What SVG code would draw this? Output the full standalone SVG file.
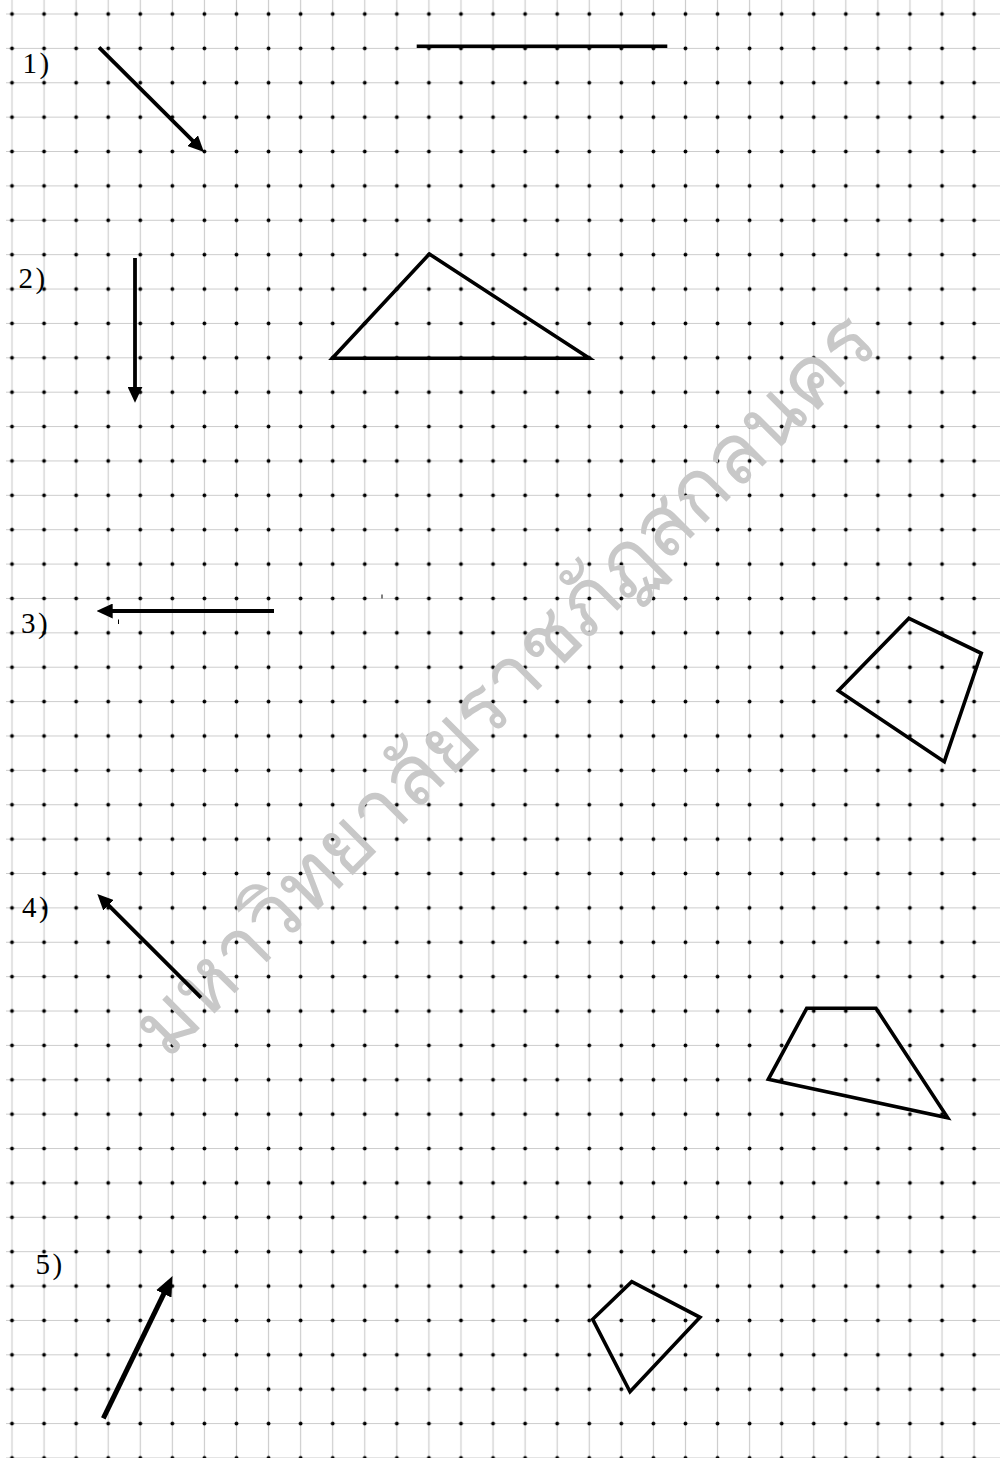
<svg xmlns="http://www.w3.org/2000/svg" width="1000" height="1458" viewBox="0 0 1000 1458">
<style>
.shape{fill:none;stroke:#000;stroke-width:3.6;stroke-linejoin:miter;stroke-linecap:butt}
.arrow{fill:none;stroke:#000;stroke-width:3.8;stroke-linecap:butt}
.lbl{font-family:"Liberation Serif",serif;font-size:29px;fill:#000;letter-spacing:2.5px}
.wm{font-family:"Noto Sans",sans-serif;font-size:84px;fill:#c8c8c8}
.tick{stroke:#000;stroke-width:1}
</style>
<defs>
<pattern id="grid" patternUnits="userSpaceOnUse" x="-4.035" y="-3.19" width="32.07" height="34.38">
<line x1="16.035" y1="0" x2="16.035" y2="34.38" stroke="#cccccc" stroke-width="1.2"/>
<line x1="0" y1="17.19" x2="32.07" y2="17.19" stroke="#cccccc" stroke-width="1.2"/>
<circle cx="16.035" cy="17.19" r="1.9" fill="#000"/>
</pattern>
<marker id="ah" markerUnits="userSpaceOnUse" markerWidth="16" markerHeight="15" refX="6" refY="7.5" orient="auto" viewBox="0 0 16 15">
<path d="M0,0 L16,7.5 L0,15 Z" fill="#000"/>
</marker>
<marker id="ahL" markerUnits="userSpaceOnUse" markerWidth="20" markerHeight="17" refX="8" refY="8.5" orient="auto" viewBox="0 0 20 17">
<path d="M0,0 L20,8.5 L0,17 Z" fill="#000"/>
</marker>
</defs>
<rect id="background" x="0" y="0" width="1000" height="1458" fill="#fff"/>
<rect id="dot-grid" x="6" y="0" width="994" height="1458" fill="url(#grid)"/>
<g id="watermark">
<text class="wm" x="510" y="710" text-anchor="middle" transform="rotate(-45 510 690)" textLength="1010" lengthAdjust="spacingAndGlyphs">มหาวิทยาลัยราชภัฏสกลนคร</text>
</g>
<g id="labels">
<text class="lbl" x="22.5" y="72.5">1)</text>
<text class="lbl" x="18.5" y="288">2)</text>
<text class="lbl" x="21" y="632.5">3)</text>
<text class="lbl" x="22" y="916.5">4)</text>
<text class="lbl" x="35.5" y="1274">5)</text>
</g>
<g id="connectors">
<line id="arrow-1" class="arrow" x1="99" y1="47.3" x2="196.9" y2="144.9" marker-end="url(#ah)"/>
<line id="arrow-2" class="arrow" x1="135" y1="258" x2="135" y2="392.7" marker-end="url(#ah)"/>
<line id="arrow-3" class="arrow" x1="274" y1="611" x2="106.7" y2="611" marker-end="url(#ah)"/>
<line id="arrow-4" class="arrow" x1="201" y1="997.7" x2="104.4" y2="901.1" marker-end="url(#ah)"/>
<line id="arrow-5" class="arrow" style="stroke-width:5" x1="103.3" y1="1418.3" x2="167.3" y2="1286.7" marker-end="url(#ahL)"/>
</g>
<g id="segment-1"><line class="shape" x1="416.7" y1="46.3" x2="667.3" y2="46.3"/></g>
<g id="triangle-2"><polygon class="shape" points="429.3,254 589.3,358.3 332.3,358.3"/></g>
<g id="quad-3"><polygon class="shape" points="909,618.3 981.3,653.3 944.3,761.7 838.3,690.7"/></g>
<g id="quad-4"><polygon class="shape" points="806.7,1008.3 876,1008.3 947.7,1117.7 768.3,1079.3"/></g>
<g id="quad-5"><polygon class="shape" points="631.7,1281.7 700,1317.3 630,1391.7 592.7,1319.3"/></g>
<g id="marks">
<line class="tick" x1="382" y1="594.5" x2="382" y2="598.5"/>
<line class="tick" x1="118.5" y1="619.5" x2="118.5" y2="624"/>
</g>
</svg>
